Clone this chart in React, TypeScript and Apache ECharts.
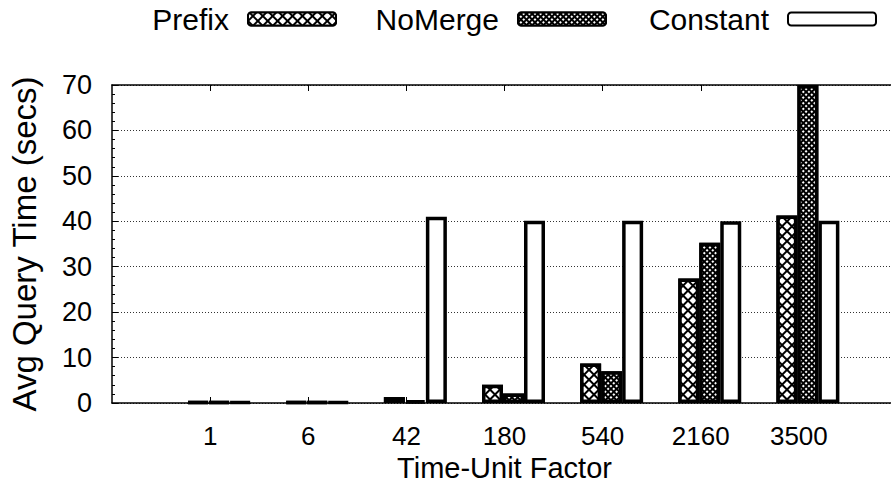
import React, { useEffect, useRef } from "react";
import * as echarts from "echarts";

const categories = ["1", "6", "42", "180", "540", "2160", "3500"];
const prefixTimes = [0.2, 0.2, 1.3, 4.0, 8.7, 27.4, 41.3];
const noMergeTimes = [0.2, 0.2, 0.6, 2.1, 7.0, 35.3, 70];
const constantTimes = [0.2, 0.2, 41.0, 40.1, 40.1, 40.0, 40.1];
const yTicks = { min: 0, max: 70, interval: 10 };
const seriesNames = ["Prefix", "NoMerge", "Constant"];

const FONT = "'Liberation Sans', Arial, Helvetica, sans-serif";

export default function App() {
  const ref = useRef<HTMLDivElement>(null);
  useEffect(() => {
    document.body.style.margin = "0";
    document.body.style.overflow = "hidden";
    document.documentElement.style.overflow = "hidden";
    const chart = echarts.init(ref.current!, null, { renderer: "svg" });
    // pad with an empty slot at each end so the categories sit one band in from the edges
    const cats = ["", ...categories, ""];
    const pad = (a: (number | null)[]) => [null, ...a, null];
    const showTick = (i: number) => i >= 1 && i <= categories.length;
    const barBase = {
      type: "bar" as const,
      barWidth: 21,
      barGap: "0%",
      xAxisIndex: 0,
      yAxisIndex: 0,
    };
    const border = 3.5;
    // gnuplot-style key: equal-width columns, text right-justified before the sample
    const legendRights = [563, 293, 23];
    const legends = seriesNames.map((name, i) => ({
      data: [name],
      orient: "horizontal",
      right: legendRights[i],
      top: 4,
      padding: 0,
      align: "right",
      itemWidth: 88,
      itemHeight: 13,
      textStyle: { fontFamily: FONT, fontSize: 30, color: "#000", padding: [2, 14, 0, 0] },
      selectedMode: false,
    }));
    chart.setOption({
      animation: false,
      backgroundColor: "#fff",
      textStyle: { fontFamily: FONT, color: "#000" },
      legend: legends,
      grid: { left: 110.5, right: 0, top: 85, bottom: 89, containLabel: false },
      xAxis: [
        {
          type: "category",
          data: cats,
          boundaryGap: false,
          position: "bottom",
          name: "Time-Unit Factor",
          nameLocation: "middle",
          nameGap: 44,
          nameTextStyle: { fontFamily: FONT, fontSize: 29, color: "#000" },
          axisLine: { show: true, lineStyle: { color: "#000", width: 1.5 } },
          axisTick: { show: true, inside: true, length: 6, interval: (i: number) => showTick(i), lineStyle: { color: "#000", width: 1 } },
          axisLabel: { interval: 0, fontFamily: FONT, fontSize: 26, color: "#000", margin: 20 },
          splitLine: { show: false },
        },
        {
          type: "category",
          data: cats,
          boundaryGap: false,
          position: "top",
          axisLine: { show: true, lineStyle: { color: "#000", width: 1.5 } },
          axisTick: { show: true, inside: true, length: 6, interval: (i: number) => showTick(i), lineStyle: { color: "#000", width: 1 } },
          axisLabel: { show: false },
          splitLine: { show: false },
        },
      ],
      yAxis: {
        type: "value",
        min: yTicks.min,
        max: yTicks.max,
        interval: yTicks.interval,
        name: "Avg Query Time (secs)",
        nameLocation: "middle",
        nameGap: 71,
        nameTextStyle: { fontFamily: FONT, fontSize: 33, color: "#000" },
        axisLine: { show: true, lineStyle: { color: "#000", width: 1.5 } },
        axisTick: { show: true, inside: true, length: 6, lineStyle: { color: "#000", width: 1 } },
        minorTick: { show: true, splitNumber: 5, length: 3, lineStyle: { color: "#000", width: 1 } },
        axisLabel: { fontFamily: FONT, fontSize: 27, color: "#000", margin: 20 },
        splitLine: { show: true, lineStyle: { color: "#333", width: 1, type: [1, 2] } },
      },
      series: [
        {
          ...barBase,
          name: "_pad",
          barWidth: 18,
          data: pad(categories.map(() => 0)),
          itemStyle: { color: "rgba(0,0,0,0)", borderWidth: 0 },
          silent: true,
        },
        {
          ...barBase,
          name: "Prefix",
          data: pad(prefixTimes),
          itemStyle: {
            color: "#000",
            borderColor: "#000",
            borderWidth: border,
            decal: {
              symbol: "rect",
              color: "#fff",
              dashArrayX: [4.2, 1.8],
              dashArrayY: [4.2, 1.8],
              rotation: Math.PI / 4,
              symbolSize: 1,
            },
          },
        },
        {
          ...barBase,
          name: "NoMerge",
          data: pad(noMergeTimes),
          itemStyle: {
            color: "#000",
            borderColor: "#000",
            borderWidth: border,
            decal: {
              symbol: "rect",
              color: "#fff",
              dashArrayX: [1.3, 1.5],
              dashArrayY: [1.3, 1.5],
              rotation: Math.PI / 4,
              symbolSize: 1,
            },
          },
        },
        {
          ...barBase,
          name: "Constant",
          data: pad(constantTimes),
          itemStyle: { color: "#fff", borderColor: "#000", borderWidth: border },
        },
      ],
    });
    return () => chart.dispose();
  }, []);
  return <div ref={ref} style={{ width: 900, height: 492 }} />;
}
